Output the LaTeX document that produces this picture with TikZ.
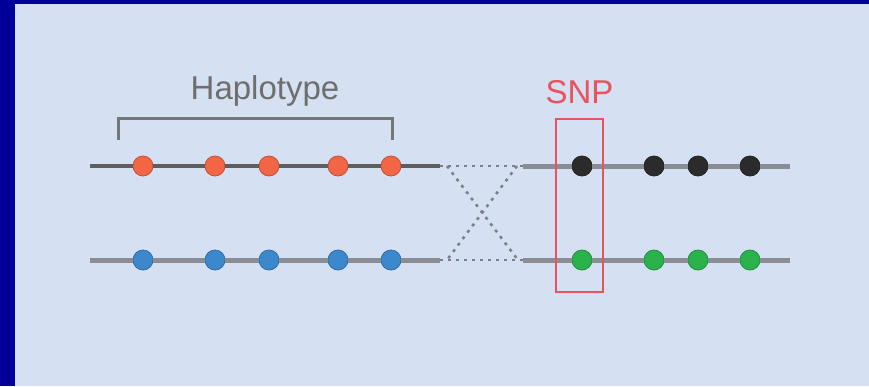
\documentclass[tikz,border=0pt]{standalone}
\usepackage{fontspec}
\setmainfont{Liberation Sans}
\usepackage{xcolor}
\usetikzlibrary{positioning}

\definecolor{panelbg}{HTML}{D5E0F2}
\definecolor{framebl}{HTML}{000099}
\definecolor{hapred}{HTML}{F26545}
\definecolor{hapblue}{HTML}{3B88CC}
\definecolor{snpblack}{HTML}{2B2B2B}
\definecolor{snpgreen}{HTML}{2BB24C}
\definecolor{snpred}{HTML}{E8535E}
\definecolor{linedark}{HTML}{5E5E5E}
\definecolor{linegray}{HTML}{8A8D93}

\tikzset{
  hdot/.style={circle,inner sep=0pt,minimum size=20pt,draw=#1!80!black,line width=0.8pt,fill=#1},
  strandtop/.style={linedark,line width=3.5pt},
  strand/.style={linegray,line width=5pt},
  crossline/.style={linegray!90!black,line width=2.5pt,dash pattern=on 3pt off 5pt},
  labeltxt/.style={font=\fontsize{33}{38}\selectfont}
}

\begin{document}
\begin{tikzpicture}[x=1pt,y=-1pt]
\fill[panelbg] (0,0) rectangle (869,386);
\fill[framebl] (0,0) rectangle (15,386);
\fill[framebl] (0,0) rectangle (869,4);
\useasboundingbox (0,0) rectangle (869,386);

% line ends
\coordinate (tl) at (90,166);
\coordinate (bl) at (90,260);
\coordinate (txl) at (440,166);
\coordinate (txr) at (523,166);
\coordinate (bxl) at (440,260);
\coordinate (bxr) at (523,260);
\coordinate (tr) at (790,166);
\coordinate (br) at (790,260);

% haplotype dots
\node[hdot=hapred] (r1) at (143,166) {};
\node[hdot=hapred] (r2) at (215,166) {};
\node[hdot=hapred] (r3) at (269,166) {};
\node[hdot=hapred] (r4) at (338,166) {};
\node[hdot=hapred] (r5) at (391,166) {};
\node[hdot=hapblue] (b1) at (143,260) {};
\node[hdot=hapblue] (b2) at (215,260) {};
\node[hdot=hapblue] (b3) at (269,260) {};
\node[hdot=hapblue] (b4) at (338,260) {};
\node[hdot=hapblue] (b5) at (391,260) {};

% snp side dots
\node[hdot=snpblack] (k1) at (582,166) {};
\node[hdot=snpblack] (k2) at (654,166) {};
\node[hdot=snpblack] (k3) at (698,166) {};
\node[hdot=snpblack] (k4) at (750,166) {};
\node[hdot=snpgreen] (g1) at (582,260) {};
\node[hdot=snpgreen] (g2) at (654,260) {};
\node[hdot=snpgreen] (g3) at (698,260) {};
\node[hdot=snpgreen] (g4) at (750,260) {};

\draw[strandtop] (tl) -- (r1) (r1) -- (r2) (r2) -- (r3) (r3) -- (r4) (r4) -- (r5) (r5) -- (txl);
\draw[strand] (bl) -- (b1) (b1) -- (b2) (b2) -- (b3) (b3) -- (b4) (b4) -- (b5) (b5) -- (bxl);
\draw[strand] (txr) -- (k1) (k1) -- (k2) (k2) -- (k3) (k3) -- (k4) (k4) -- (tr);
\draw[strand] (bxr) -- (g1) (g1) -- (g2) (g2) -- (g3) (g3) -- (g4) (g4) -- (br);

% crossover
\draw[crossline] (txl) -- (txr);
\draw[crossline] (bxl) -- (bxr);
\draw[crossline] ([xshift=7pt]txl) -- ([xshift=-5pt]bxr);
\draw[crossline] ([xshift=-6pt]txr) -- ([xshift=7pt]bxl);

% bracket and labels
\coordinate (brl) at (118,140);
\coordinate (brr) at (392,140);
\draw[linedark!85,line width=3pt] (brl) -- ++(0,-22) -| (brr);
\node[labeltxt,text=linedark!90] (hap) at (265,91) {Haplotype};

\node[draw=snpred,line width=2.2pt,minimum width=47pt,minimum height=173pt,inner sep=0pt] (snpbox) at (579.5,205.5) {};
\node[labeltxt,text=snpred,above=11pt of snpbox] (snp) {SNP};
\end{tikzpicture}
\end{document}
